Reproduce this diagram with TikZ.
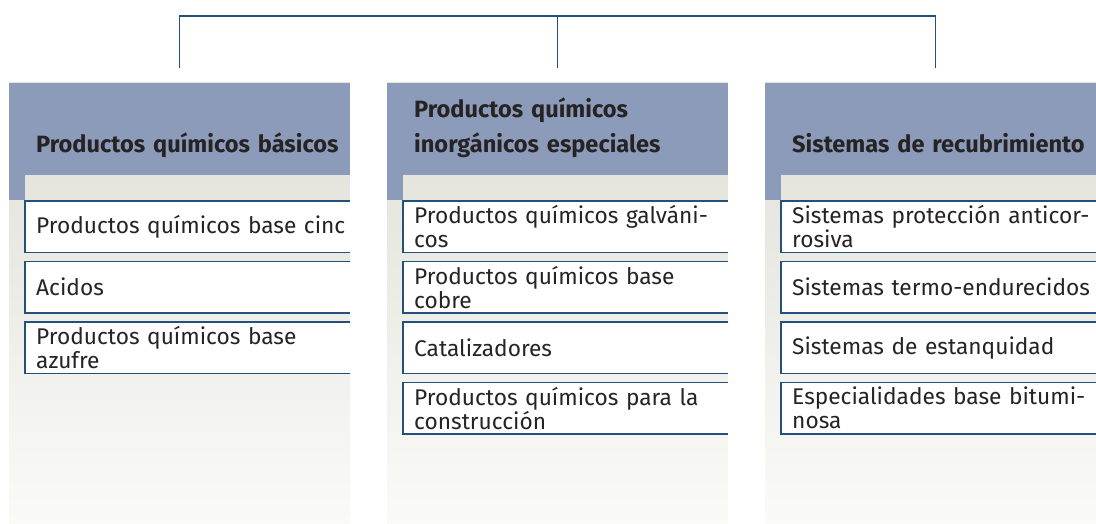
\documentclass[tikz,border=0pt]{standalone}
\usepackage{fontspec}
\setmainfont{Fira Sans}

\definecolor{kopfblau}{HTML}{8B9BB9}
\definecolor{randblau}{HTML}{24507C}
\definecolor{papier}{HTML}{E5E5DE}
\definecolor{papierhell}{HTML}{FAFAF8}
\definecolor{schrift}{HTML}{262324}

\begin{document}
\begin{tikzpicture}[x=1pt, y=-1pt, node distance=60.5pt]

    \tikzstyle{kopf} = [rectangle, anchor=north west, minimum width=341pt, minimum height=92pt, inner sep=0pt, fill=kopfblau]
    \tikzstyle{kopftext} = [anchor=base west, inner sep=0pt, text width=320pt, align=left, text=schrift, font=\fontsize{23.6}{35}\selectfont\bfseries]
    \tikzstyle{eintrag} = [rectangle, fill=white, minimum height=51pt, inner xsep=11pt, inner ysep=0pt, text width=320pt, align=left, text=schrift, font=\fontsize{22.7}{24}\selectfont]
    \tikzstyle{rand} = [randblau, line width=1.2pt]
    \tikzstyle{link} = [randblau, line width=1.5pt]

    \useasboundingbox (0,0) rectangle (1096,524);

    % Hintergrund der Spalten
    \foreach \x in {9, 387, 765} {
        \fill [papier] (\x,82) rectangle ++(341,93);
        \shade [top color=papier, bottom color=papierhell] (\x,175) rectangle ++(341,349);
    }

            % Kopfzeilen
            \node (Kopf1) [kopf] at (9,83) {};
            \node (Kopf2) [kopf] at (387,83) {};
            \node (Kopf3) [kopf] at (765,83) {};
            \foreach \k in {Kopf1, Kopf2, Kopf3}
                \fill [kopfblau] (\k.south west) rectangle ++(16,25);

            \node (Basicos) [kopftext] at ([xshift=27pt, yshift=23pt]Kopf1.south west) {Productos químicos básicos};
            \node (Inorganicos) [kopftext] at ([xshift=27pt, yshift=58pt]Kopf2.south west) {Productos químicos\\inorgánicos especiales};
            \node (Recubrimiento) [kopftext] at ([xshift=27pt, yshift=23pt]Kopf3.south west) {Sistemas de recubrimiento};

            % Eintraege
            \node (Cinc) [eintrag, anchor=north west] at (25,201) {Productos químicos base cinc};
            \node (Acidos) [eintrag, below of=Cinc] {Acidos};
            \node (Azufre) [eintrag, below of=Acidos] {Productos químicos base\\azufre};

            \node (Galvanicos) [eintrag, anchor=north west] at (403,201) {Productos químicos galváni-\\cos};
            \node (Cobre) [eintrag, below of=Galvanicos] {Productos químicos base\\cobre};
            \node (Catalizadores) [eintrag, below of=Cobre] {Catalizadores};
            \node (Construccion) [eintrag, below of=Catalizadores] {Productos químicos para la\\construcción};

            \node (Anticorrosiva) [eintrag, anchor=north west] at (781,201) {Sistemas protección anticor-\\rosiva};
            \node (Termo) [eintrag, below of=Anticorrosiva] {Sistemas termo-endurecidos};
            \node (Estanquidad) [eintrag, below of=Termo] {Sistemas de estanquidad};
            \node (Bituminosa) [eintrag, below of=Estanquidad] {Especialidades base bitumi-\\nosa};

            \foreach \e in {Cinc, Acidos, Azufre, Galvanicos, Cobre, Catalizadores, Construccion, Anticorrosiva, Termo, Estanquidad, Bituminosa}
                \draw [rand] ([xshift=-17pt]\e.north east) -- (\e.north west) -- (\e.south west) -- ([xshift=-17pt]\e.south east);

            % ----- ----- ----- ----- ----- ----- ----- ----- ----- -----

            \coordinate (Oben) at ([yshift=67pt]Kopf2.north);
            \draw [link] ([yshift=15pt]Kopf1.north) |- (Oben) -| ([yshift=15pt]Kopf3.north);
            \draw [link] (Oben) -- ([yshift=15pt]Kopf2.north);
\end{tikzpicture}
\end{document}
